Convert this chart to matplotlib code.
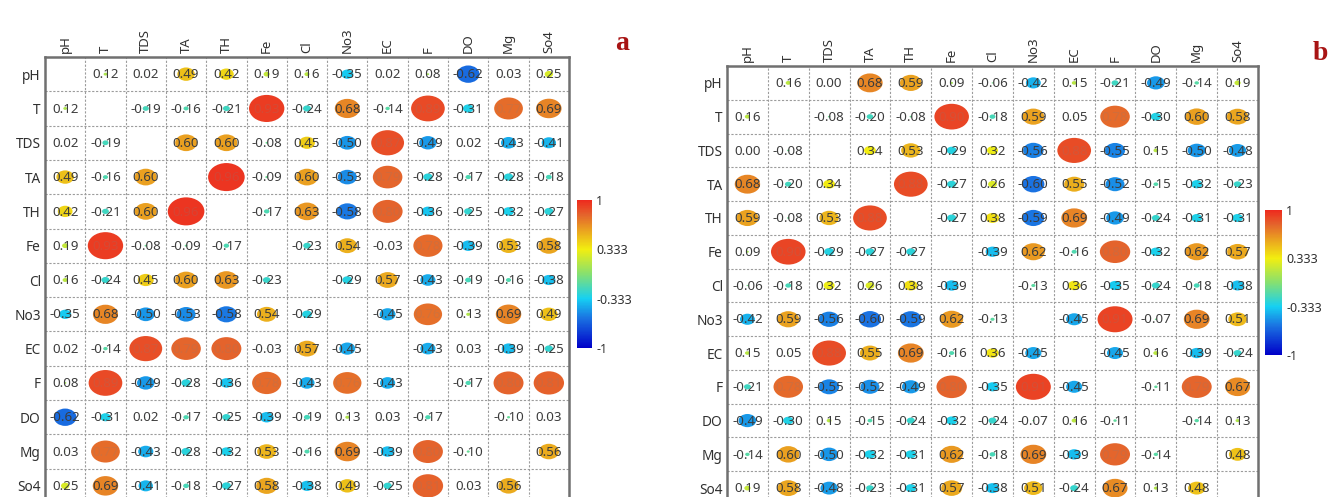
import numpy as np
import matplotlib.pyplot as plt
from matplotlib.patches import Ellipse
from matplotlib.colors import LinearSegmentedColormap, Normalize, to_rgb
from matplotlib.cm import ScalarMappable

plt.rcParams['font.family'] = ['Noto Sans', 'DejaVu Sans']

params = ["pH", "T", "TDS", "TA", "TH", "Fe", "Cl", "No3", "EC", "F", "DO", "Mg", "So4"]

# correlation matrix, panel a (diagonal left empty)
corr_a = [
    [0, 0.12, 0.02, 0.49, 0.42, 0.19, 0.16, -0.35, 0.02, 0.08, -0.62, 0.03, 0.25],
    [0.12, 0, -0.19, -0.16, -0.21, 0.93, -0.24, 0.68, -0.14, 0.89, -0.31, 0.77, 0.69],
    [0.02, -0.19, 0, 0.60, 0.60, -0.08, 0.45, -0.50, 0.87, -0.49, 0.02, -0.43, -0.41],
    [0.49, -0.16, 0.60, 0, 0.96, -0.09, 0.60, -0.53, 0.79, -0.28, -0.17, -0.28, -0.18],
    [0.42, -0.21, 0.60, 0.96, 0, -0.17, 0.63, -0.58, 0.80, -0.36, -0.25, -0.32, -0.27],
    [0.19, 0.93, -0.08, -0.09, -0.17, 0, -0.23, 0.54, -0.03, 0.78, -0.39, 0.53, 0.58],
    [0.16, -0.24, 0.45, 0.60, 0.63, -0.23, 0, -0.29, 0.57, -0.43, -0.19, -0.16, -0.38],
    [-0.35, 0.68, -0.50, -0.53, -0.58, 0.54, -0.29, 0, -0.45, 0.76, 0.13, 0.69, 0.49],
    [0.02, -0.14, 0.87, 0.79, 0.80, -0.03, 0.57, -0.45, 0, -0.43, 0.03, -0.39, -0.25],
    [0.08, 0.89, -0.49, -0.28, -0.36, 0.78, -0.43, 0.76, -0.43, 0, -0.17, 0.80, 0.81],
    [-0.62, -0.31, 0.02, -0.17, -0.25, -0.39, -0.19, 0.13, 0.03, -0.17, 0, -0.10, 0.03],
    [0.03, 0.77, -0.43, -0.28, -0.32, 0.53, -0.16, 0.69, -0.39, 0.80, -0.10, 0, 0.56],
    [0.25, 0.69, -0.41, -0.18, -0.27, 0.58, -0.38, 0.49, -0.25, 0.81, 0.03, 0.56, 0],
]

# correlation matrix, panel b
corr_b = [
    [0, 0.16, 0.00, 0.68, 0.59, 0.09, -0.06, -0.42, 0.15, -0.21, -0.49, -0.14, 0.19],
    [0.16, 0, -0.08, -0.20, -0.08, 0.90, -0.18, 0.59, 0.05, 0.78, -0.30, 0.60, 0.58],
    [0.00, -0.08, 0, 0.34, 0.53, -0.29, 0.32, -0.56, 0.88, -0.55, 0.15, -0.50, -0.48],
    [0.68, -0.20, 0.34, 0, 0.88, -0.27, 0.26, -0.60, 0.55, -0.52, -0.15, -0.32, -0.23],
    [0.59, -0.08, 0.53, 0.88, 0, -0.27, 0.38, -0.59, 0.69, -0.49, -0.24, -0.31, -0.31],
    [0.09, 0.90, -0.29, -0.27, -0.27, 0, -0.39, 0.62, -0.16, 0.80, -0.32, 0.62, 0.57],
    [-0.06, -0.18, 0.32, 0.26, 0.38, -0.39, 0, -0.13, 0.36, -0.35, -0.24, -0.18, -0.38],
    [-0.42, 0.59, -0.56, -0.60, -0.59, 0.62, -0.13, 0, -0.45, 0.91, -0.07, 0.69, 0.51],
    [0.15, 0.05, 0.88, 0.55, 0.69, -0.16, 0.36, -0.45, 0, -0.45, 0.16, -0.39, -0.24],
    [-0.21, 0.78, -0.55, -0.52, -0.49, 0.80, -0.35, 0.91, -0.45, 0, -0.11, 0.79, 0.67],
    [-0.49, -0.30, 0.15, -0.15, -0.24, -0.32, -0.24, -0.07, 0.16, -0.11, 0, -0.14, 0.13],
    [-0.14, 0.60, -0.50, -0.32, -0.31, 0.62, -0.18, 0.69, -0.39, 0.79, -0.14, 0, 0.48],
    [0.19, 0.58, -0.48, -0.23, -0.31, 0.57, -0.38, 0.51, -0.24, 0.67, 0.13, 0.48, 0],
]

cbar_ticks = [1, 0.333, -0.333, -1]
cbar_labels = ["1", "0.333", "-0.333", "-1"]

W, H = 1329, 497

cmap = LinearSegmentedColormap.from_list("corr", [
    (0.0, "#0000c8"),
    (0.2, "#1a72e2"),
    (0.333, "#16d0f2"),
    (0.5, "#86e070"),
    (0.667, "#f2ee10"),
    (0.8, "#eaa020"),
    (0.9, "#e4642c"),
    (1.0, "#ee2a1e"),
])
norm = Normalize(-1, 1)


def px_rect(left, top, right, bottom):
    # pixel box -> figure fraction rectangle
    return [left / W, 1 - bottom / H, (right - left) / W, (bottom - top) / H]


def draw_panel(fig, box, cbar_box, corr, letter, letter_xy):
    n = len(params)
    ax = fig.add_axes(px_rect(*box))
    ax.set_xlim(0, n)
    ax.set_ylim(n, 0)

    # dashed cell grid
    for k in range(1, n):
        ax.axvline(k, color="#9c9c9c", lw=0.8, ls=(0, (2, 1.5)), zorder=0)
        ax.axhline(k, color="#9c9c9c", lw=0.8, ls=(0, (2, 1.5)), zorder=0)

    for i in range(n):
        for j in range(n):
            if i == j:
                continue
            r = corr[i][j]
            col = cmap(norm(r))
            s = 0.95 * abs(r) ** 1.1
            ax.add_patch(Ellipse((j + 0.5, i + 0.5), s, s * 0.9, facecolor=col,
                                 edgecolor="none", zorder=1))
            if abs(r) >= 0.75:
                # value text almost lost inside the large ellipses
                c = np.array(to_rgb(col))
                tcol = c * 0.8 + 0.2 * 0.5
            else:
                tcol = "#3c3c3c"
            ax.text(j + 0.5, i + 0.52, f"{r:.2f}", ha="center", va="center",
                    fontsize=9.6, color=tcol, zorder=2)

    ax.xaxis.tick_top()
    ax.set_xticks(np.arange(n) + 0.5)
    ax.set_xticklabels(params, rotation=90, fontsize=9.5, color="#303030")
    ax.set_yticks(np.arange(n) + 0.5)
    ax.set_yticklabels(params, fontsize=9.8, color="#303030")
    ax.tick_params(length=0, pad=3)
    for sp in ax.spines.values():
        sp.set_color("#707070")
        sp.set_linewidth(1.8)

    cax = fig.add_axes(px_rect(*cbar_box))
    cb = fig.colorbar(ScalarMappable(norm=norm, cmap=cmap), cax=cax)
    cb.outline.set_visible(False)
    cb.set_ticks(cbar_ticks)
    cb.set_ticklabels(cbar_labels)
    cax.tick_params(length=0, labelsize=9, pad=3, colors="#303030")

    fig.text(letter_xy[0] / W, 1 - letter_xy[1] / H, letter, family="Liberation Serif",
             fontweight="bold", fontsize=20, color="#a81414", ha="center", va="baseline")


fig = plt.figure(figsize=(W / 100, H / 100), dpi=100)
draw_panel(fig, (45, 57, 569, 503), (577, 200, 592, 348), corr_a, "a", (622, 50))
draw_panel(fig, (727, 66, 1258, 505), (1265, 210, 1282, 355), corr_b, "b", (1320, 60))

plt.savefig("out.png", dpi=100)
